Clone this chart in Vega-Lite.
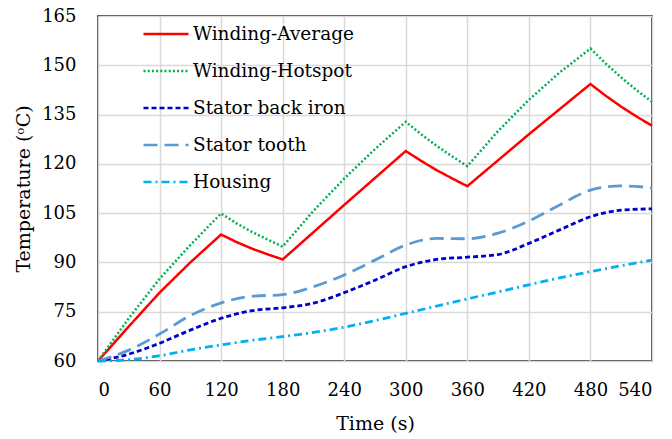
{
  "$schema": "https://vega.github.io/schema/vega-lite/v6.json",
  "width": 554,
  "height": 345,
  "autosize": {"type": "none"},
  "padding": {"left": 98, "top": 16, "right": 20, "bottom": 78},
  "background": "white",
  "config": {
    "font": "DejaVu Serif",
    "view": {"stroke": "black", "strokeWidth": 1.5},
    "axis": {
      "labelFont": "DejaVu Serif", "titleFont": "DejaVu Serif",
      "labelFontSize": 18, "titleFontSize": 19, "labelColor": "black", "titleColor": "black",
      "titleFontWeight": "normal", "ticks": false, "domain": false,
      "gridColor": "#d9d9d9", "gridWidth": 1.5
    },
    "legend": {"labelFont": "DejaVu Serif", "labelFontSize": 18.5, "labelColor": "black", "labelLimit": 400}
  },
  "datasets": {
    "winding": [
      {"t": 0, "series": "Winding-Average", "temp": 60},
      {"t": 30, "series": "Winding-Average", "temp": 70.5},
      {"t": 60, "series": "Winding-Average", "temp": 80.8},
      {"t": 90, "series": "Winding-Average", "temp": 90},
      {"t": 120, "series": "Winding-Average", "temp": 98.5},
      {"t": 135, "series": "Winding-Average", "temp": 96.2},
      {"t": 150, "series": "Winding-Average", "temp": 94.2},
      {"t": 165, "series": "Winding-Average", "temp": 92.5},
      {"t": 180, "series": "Winding-Average", "temp": 90.9},
      {"t": 240, "series": "Winding-Average", "temp": 107.5},
      {"t": 300, "series": "Winding-Average", "temp": 123.9},
      {"t": 315, "series": "Winding-Average", "temp": 120.9},
      {"t": 330, "series": "Winding-Average", "temp": 118.1},
      {"t": 345, "series": "Winding-Average", "temp": 115.6},
      {"t": 360, "series": "Winding-Average", "temp": 113.2},
      {"t": 420, "series": "Winding-Average", "temp": 129},
      {"t": 480, "series": "Winding-Average", "temp": 144.3},
      {"t": 495, "series": "Winding-Average", "temp": 140.7},
      {"t": 510, "series": "Winding-Average", "temp": 137.4},
      {"t": 525, "series": "Winding-Average", "temp": 134.4},
      {"t": 540, "series": "Winding-Average", "temp": 131.6},
      {"t": 0, "series": "Winding-Hotspot", "temp": 60},
      {"t": 30, "series": "Winding-Hotspot", "temp": 73},
      {"t": 60, "series": "Winding-Hotspot", "temp": 85},
      {"t": 90, "series": "Winding-Hotspot", "temp": 95.3},
      {"t": 120, "series": "Winding-Hotspot", "temp": 104.9},
      {"t": 135, "series": "Winding-Hotspot", "temp": 101.9},
      {"t": 150, "series": "Winding-Hotspot", "temp": 99.3},
      {"t": 165, "series": "Winding-Hotspot", "temp": 97},
      {"t": 180, "series": "Winding-Hotspot", "temp": 94.8},
      {"t": 210, "series": "Winding-Hotspot", "temp": 105.7},
      {"t": 240, "series": "Winding-Hotspot", "temp": 115.5},
      {"t": 270, "series": "Winding-Hotspot", "temp": 124.5},
      {"t": 300, "series": "Winding-Hotspot", "temp": 132.8},
      {"t": 315, "series": "Winding-Hotspot", "temp": 129},
      {"t": 330, "series": "Winding-Hotspot", "temp": 125.5},
      {"t": 345, "series": "Winding-Hotspot", "temp": 122.3},
      {"t": 360, "series": "Winding-Hotspot", "temp": 119.3},
      {"t": 390, "series": "Winding-Hotspot", "temp": 130},
      {"t": 420, "series": "Winding-Hotspot", "temp": 139.5},
      {"t": 450, "series": "Winding-Hotspot", "temp": 147.8},
      {"t": 480, "series": "Winding-Hotspot", "temp": 155.1},
      {"t": 495, "series": "Winding-Hotspot", "temp": 150.5},
      {"t": 510, "series": "Winding-Hotspot", "temp": 146.3},
      {"t": 525, "series": "Winding-Hotspot", "temp": 142.4},
      {"t": 540, "series": "Winding-Hotspot", "temp": 138.9}
    ],
    "smooth": [
      {"t": 0, "series": "Stator back iron", "temp": 60},
      {"t": 30, "series": "Stator back iron", "temp": 62.1},
      {"t": 60, "series": "Stator back iron", "temp": 65.4},
      {"t": 90, "series": "Stator back iron", "temp": 69.4},
      {"t": 120, "series": "Stator back iron", "temp": 73},
      {"t": 150, "series": "Stator back iron", "temp": 75.3},
      {"t": 180, "series": "Stator back iron", "temp": 76.2},
      {"t": 210, "series": "Stator back iron", "temp": 77.6},
      {"t": 240, "series": "Stator back iron", "temp": 80.8},
      {"t": 270, "series": "Stator back iron", "temp": 84.6},
      {"t": 300, "series": "Stator back iron", "temp": 88.7},
      {"t": 330, "series": "Stator back iron", "temp": 90.9},
      {"t": 360, "series": "Stator back iron", "temp": 91.6},
      {"t": 390, "series": "Stator back iron", "temp": 92.4},
      {"t": 420, "series": "Stator back iron", "temp": 95.8},
      {"t": 450, "series": "Stator back iron", "temp": 99.9},
      {"t": 480, "series": "Stator back iron", "temp": 103.9},
      {"t": 510, "series": "Stator back iron", "temp": 105.9},
      {"t": 540, "series": "Stator back iron", "temp": 106.3},
      {"t": 0, "series": "Stator tooth", "temp": 60},
      {"t": 30, "series": "Stator tooth", "temp": 63.3},
      {"t": 60, "series": "Stator tooth", "temp": 68.2},
      {"t": 90, "series": "Stator tooth", "temp": 73.8},
      {"t": 120, "series": "Stator tooth", "temp": 77.7},
      {"t": 150, "series": "Stator tooth", "temp": 79.7},
      {"t": 180, "series": "Stator tooth", "temp": 80.2},
      {"t": 210, "series": "Stator tooth", "temp": 82.6},
      {"t": 240, "series": "Stator tooth", "temp": 86.2},
      {"t": 270, "series": "Stator tooth", "temp": 90.7},
      {"t": 300, "series": "Stator tooth", "temp": 95.3},
      {"t": 330, "series": "Stator tooth", "temp": 97.3},
      {"t": 360, "series": "Stator tooth", "temp": 97.2},
      {"t": 390, "series": "Stator tooth", "temp": 98.9},
      {"t": 420, "series": "Stator tooth", "temp": 102.6},
      {"t": 450, "series": "Stator tooth", "temp": 107.5},
      {"t": 480, "series": "Stator tooth", "temp": 112},
      {"t": 510, "series": "Stator tooth", "temp": 113.3},
      {"t": 540, "series": "Stator tooth", "temp": 112.7},
      {"t": 0, "series": "Housing", "temp": 60},
      {"t": 30, "series": "Housing", "temp": 60.4},
      {"t": 60, "series": "Housing", "temp": 61.6},
      {"t": 90, "series": "Housing", "temp": 63.4},
      {"t": 120, "series": "Housing", "temp": 64.9},
      {"t": 150, "series": "Housing", "temp": 66.3},
      {"t": 180, "series": "Housing", "temp": 67.4},
      {"t": 210, "series": "Housing", "temp": 68.7},
      {"t": 240, "series": "Housing", "temp": 70.3},
      {"t": 270, "series": "Housing", "temp": 72.3},
      {"t": 300, "series": "Housing", "temp": 74.5},
      {"t": 330, "series": "Housing", "temp": 76.7},
      {"t": 360, "series": "Housing", "temp": 78.9},
      {"t": 390, "series": "Housing", "temp": 81},
      {"t": 420, "series": "Housing", "temp": 83.2},
      {"t": 450, "series": "Housing", "temp": 85.3},
      {"t": 480, "series": "Housing", "temp": 87.2},
      {"t": 510, "series": "Housing", "temp": 89},
      {"t": 540, "series": "Housing", "temp": 90.7}
    ]
  },
  "encoding": {
    "x": {
      "field": "t", "type": "quantitative",
      "scale": {"domain": [0, 540], "nice": false, "zero": false},
      "axis": {"values": [0, 60, 120, 180, 240, 300, 360, 420, 480, 540], "title": "Time (s)", "labelPadding": 20, "titlePadding": 15}
    },
    "y": {
      "field": "temp", "type": "quantitative",
      "scale": {"domain": [60, 165], "nice": false, "zero": false},
      "axis": {"values": [60, 75, 90, 105, 120, 135, 150, 165], "title": "Temperature (ᵒC)", "labelPadding": 22, "titlePadding": 8}
    },
    "color": {
      "field": "series", "type": "nominal",
      "scale": {
        "domain": ["Winding-Average", "Winding-Hotspot", "Stator back iron", "Stator tooth", "Housing"],
        "range": ["#ff0000", "#00b050", "#0000c8", "#5b9bd5", "#00b0f0"]
      },
      "legend": {
        "title": null, "orient": "none", "legendX": 44, "legendY": -6,
        "symbolType": "stroke", "symbolSize": 2025, "symbolStrokeWidth": 2.5,
        "labelOffset": 3, "rowPadding": 3, "padding": 0
      }
    },
    "strokeDash": {
      "field": "series", "type": "nominal",
      "scale": {
        "domain": ["Winding-Average", "Winding-Hotspot", "Stator back iron", "Stator tooth", "Housing"],
        "range": [[1, 0], [2, 2.2], [5, 3], [14, 7], [8, 4, 2, 4]]
      },
      "legend": null
    }
  },
  "layer": [
    {"data": {"name": "winding"}, "mark": {"type": "line", "strokeWidth": 2.5, "interpolate": "linear"}},
    {"data": {"name": "smooth"}, "mark": {"type": "line", "strokeWidth": 2.8, "interpolate": "monotone"}}
  ]
}
